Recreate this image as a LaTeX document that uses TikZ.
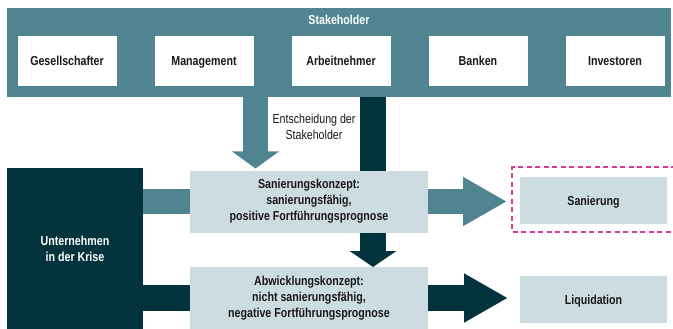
\documentclass[tikz,border=0pt]{standalone}
\usepackage{fontspec}
\setmainfont{Liberation Sans}[FakeStretch=0.82]
\usetikzlibrary{positioning,arrows.meta,backgrounds}
\definecolor{bandteal}{RGB}{80,132,144}
\definecolor{darkteal}{RGB}{3,52,62}
\definecolor{lightbox}{RGB}{205,220,225}
\definecolor{framepink}{RGB}{214,60,150}

\begin{document}
\begin{tikzpicture}[x=1pt,y=-1pt,
  every node/.style={outer sep=0pt,inner sep=2pt,align=center,text=black!90,
    font=\fontsize{13}{16}\selectfont\bfseries},
  holder/.style={fill=white,minimum width=99pt,minimum height=50pt,text height=9.3pt,text depth=0pt},
  concept/.style={fill=lightbox,minimum width=238pt,minimum height=62pt},
  result/.style={fill=lightbox,minimum width=147pt,minimum height=47pt,text height=9.3pt,text depth=0pt},
  fat/.style={line width=25pt},
  tip/.style={-{Triangle[width=46pt,length=#1]}}]
\useasboundingbox (0,0) rectangle (673,329);

% stakeholder band
\node[fill=bandteal,minimum width=664pt,minimum height=89pt](stakeholder) at (339,52.5){};
\node[text=white](title) at (339,20){Stakeholder};
\node[holder](gesellschafter) at (67,61){Gesellschafter};
\node[holder, right=38pt of gesellschafter](management){Management};
\node[holder, right=38pt of management](arbeitnehmer){Arbeitnehmer};
\node[holder, right=38pt of arbeitnehmer](banken){Banken};
\node[holder, right=38pt of banken](investoren){Investoren};

% company and concepts
\node[fill=darkteal,text=white,minimum width=136pt,minimum height=161pt](unternehmen) at (75,248.5){Unternehmen\\in der Krise};
\node[concept](sanierungskonzept) at (309,201.5){Sanierungskonzept:\\sanierungsf\"ahig,\\positive Fortf\"uhrungsprognose};
\node[concept](abwicklungskonzept) at (309,298){Abwicklungskonzept:\\nicht sanierungsf\"ahig,\\negative Fortf\"uhrungsprognose};
\node[result](sanierung) at (593.5,200.5){Sanierung};
\node[result](liquidation) at (593.5,299.5){Liquidation};
\node[font=\fontsize{13}{16}\selectfont](entscheidung) at (314,127){Entscheidung der\\Stakeholder};

\draw[framepink,line width=1.3pt,dash pattern=on 5pt off 3.5pt] (676,167) -| (512,232) -- (676,232);

% arrows
\begin{scope}[on background layer]
\draw[fat,darkteal,line width=26pt,tip=16pt] ([xshift=34pt]stakeholder.south) -- ([xshift=34pt]stakeholder.south |- abwicklungskonzept.north);
\end{scope}
\draw[fat,bandteal,tip=17pt,shorten >=2pt] ([xshift=-83.5pt]stakeholder.south) -- ([xshift=-83.5pt]stakeholder.south |- sanierungskonzept.north);
\draw[fat,bandteal] (unternehmen.east |- sanierungskonzept.west) -- (sanierungskonzept.west);
\draw[fat,darkteal,line width=26pt] (unternehmen.east |- abwicklungskonzept.west) -- (abwicklungskonzept.west);
\draw[fat,bandteal,tip=44pt,shorten >=13pt] (sanierungskonzept.east) -- (sanierungskonzept.east -| sanierung.west);
\draw[fat,darkteal,line width=26pt,tip=44pt,shorten >=12pt] (abwicklungskonzept.east) -- (abwicklungskonzept.east -| liquidation.west);
\end{tikzpicture}
\end{document}
